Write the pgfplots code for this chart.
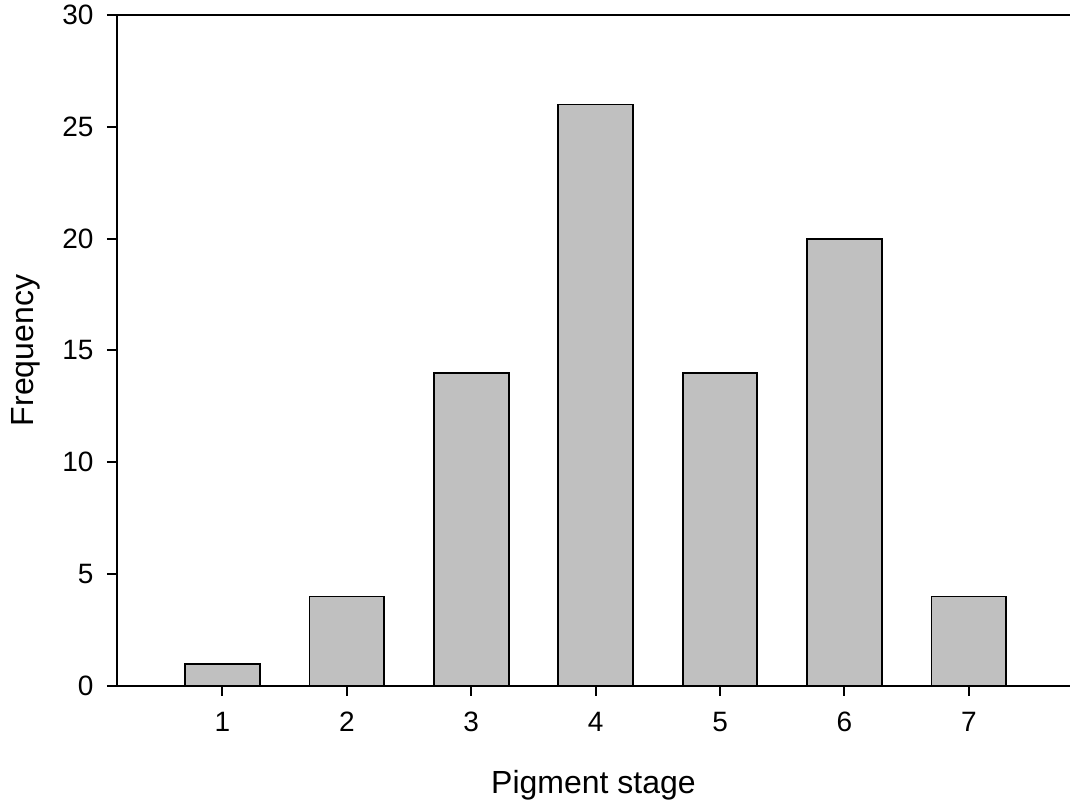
\documentclass[border=0pt]{standalone}
\usepackage{pgfplots}
\pgfplotsset{compat=1.18}
\usepackage{fontspec}
\setmainfont{Liberation Sans}

\begin{document}
\begin{tikzpicture}
  \useasboundingbox (-117pt,-119pt) rectangle (953pt,686pt);
  \begin{axis}[
      scale only axis,
      width=953pt, height=671pt,
      xmin=0.152, xmax=7.813,
      ymin=0, ymax=30,
      xtick={1,2,3,4,5,6,7},
      ytick={0,5,10,15,20,25,30},
      axis x line*=bottom,
      axis y line*=left,
      axis line style={-, line width=2pt, black},
      tick align=outside,
      major tick length=10pt,
      tick style={line width=2pt, black},
      /pgf/number format/assume math mode=true,
      ticklabel style={font=\fontsize{28}{33}\selectfont},
      yticklabel style={xshift=-10pt},
      xticklabel style={anchor=base, yshift=-35pt},
      label style={font=\fontsize{32}{38}\selectfont},
      xlabel={Pigment stage},
      ylabel={Frequency},
      xlabel style={at={(axis description cs:0.5,-0.1595)}, anchor=base},
      ylabel style={at={(axis description cs:-0.0871,0.5)}, anchor=base, rotate=0},
      clip=false,
    ]
    \addplot[ybar, bar width=0.6, fill={rgb,255:red,192;green,192;blue,192},
      draw=black, line width=1.8pt]
      coordinates {(1,1)(2,4)(3,14)(4,26)(5,14)(6,20)(7,4)};
    \draw[line width=2pt] (rel axis cs:0,1) -- (rel axis cs:1,1);
  \end{axis}
\end{tikzpicture}
\end{document}
